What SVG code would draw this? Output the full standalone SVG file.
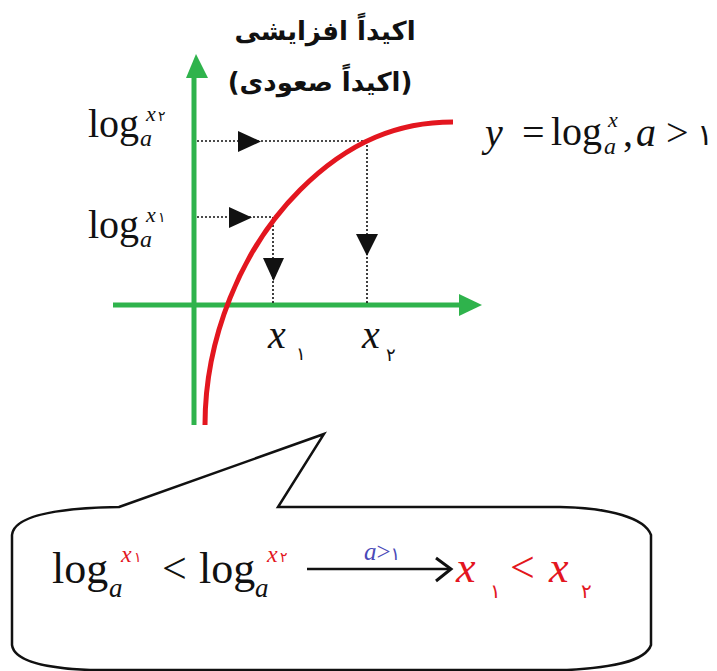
<svg xmlns="http://www.w3.org/2000/svg" width="717" height="671" viewBox="0 0 717 671">
<style>
.serif{font-family:"Liberation Serif","Times New Roman",serif;fill:#111}
.it{font-style:italic}
.fa{font-family:"DejaVu Sans","Noto Sans",sans-serif}
.red{fill:#e3161f}
.dot{stroke:#111;stroke-width:1.6;stroke-dasharray:2 2;fill:none}
.tri{fill:#111}
.axis{stroke:#2fb34c;stroke-width:5;fill:none}
</style>
<rect width="717" height="671" fill="#fff"/>
<g id="title">
<text class="fa" x="325" y="40" font-size="26" font-weight="bold" text-anchor="middle" direction="rtl" fill="#111">اکیداً افزایشی</text>
<text class="fa" x="320" y="91" font-size="26" font-weight="bold" text-anchor="middle" direction="rtl" fill="#111">(اکیداً صعودی)</text>
</g>
<g id="axes">
<line class="axis" x1="194" y1="74" x2="194" y2="425"/>
<polygon points="186,78 208,78 196,54" fill="#2fb34c"/>
<line class="axis" x1="113" y1="305" x2="462" y2="305"/>
<polygon points="459,294 459,316 482,305" fill="#2fb34c"/>
</g>
<g id="connectors">
<line class="dot" x1="197" y1="141" x2="367" y2="141"/>
<polygon class="tri" points="238,131 238,152 261,141.5"/>
<line class="dot" x1="197" y1="217" x2="272" y2="217"/>
<polygon class="tri" points="229,207 229,228 252,217.5"/>
<line class="dot" x1="273" y1="217" x2="273" y2="303"/>
<polygon class="tri" points="263,258 284,258 273.5,281"/>
<line class="dot" x1="367" y1="141" x2="367" y2="303"/>
<polygon class="tri" points="356,234 378,234 367,256"/>
</g>
<g id="curve">
<path d="M205,425 C205,340 240,250 300,190 C350,140 400,122 453,122" fill="none" stroke="#e3161f" stroke-width="5"/>
</g>
<g id="label-log-x2">
<text class="serif" x="88" y="137" font-size="40">log</text>
<text class="serif it" x="140" y="146" font-size="24">a</text>
<text class="serif it" x="146" y="121" font-size="22">x</text>
<text class="fa" x="158" y="121" font-size="14" fill="#111">۲</text>
</g>
<g id="label-log-x1">
<text class="serif" x="88" y="238" font-size="40">log</text>
<text class="serif it" x="140" y="247" font-size="24">a</text>
<text class="serif it" x="146" y="222" font-size="22">x</text>
<text class="fa" x="158" y="222" font-size="14" fill="#111">۱</text>
</g>
<g id="equation">
<text class="serif it" x="485" y="146" font-size="40">y</text>
<text class="serif" x="522" y="146" font-size="40">=</text>
<text class="serif" x="551" y="145" font-size="40">log</text>
<text class="serif it" x="604" y="154" font-size="24">a</text>
<text class="serif it" x="608" y="127" font-size="22">x</text>
<text class="serif" x="623" y="146" font-size="40">,</text>
<text class="serif it" x="636" y="146" font-size="40">a</text>
<text class="serif" x="666" y="146" font-size="40">&gt;</text>
<text class="fa" x="697" y="145" font-size="30" fill="#111">۱</text>
</g>
<g id="x-labels">
<text class="serif it" x="268" y="348" font-size="40">x</text>
<text class="fa" x="296" y="360" font-size="18" fill="#111">۱</text>
<text class="serif it" x="362" y="348" font-size="40">x</text>
<text class="fa" x="386" y="361" font-size="18" fill="#111">۲</text>
</g>
<g id="callout">
<path d="M119,507 L324,434 L278,507 L560,507 C610,508 645,518 651,535 L651,645 C645,662 610,668 567,670 L90,670 C40,668 14,660 12,645 L12,535 C14,515 60,508 119,507 Z" fill="none" stroke="#111" stroke-width="2.5" stroke-linejoin="miter"/>
<text class="serif" x="52" y="583" font-size="44">log</text>
<text class="serif it" x="109" y="597" font-size="27">a</text>
<text class="serif it red" x="121" y="562" font-size="24">x</text>
<text class="fa red" x="134" y="562" font-size="14">۱</text>
<text class="serif" x="162" y="583" font-size="44">&lt;</text>
<text class="serif" x="199" y="583" font-size="44">log</text>
<text class="serif it" x="255" y="597" font-size="27">a</text>
<text class="serif it red" x="267" y="562" font-size="24">x</text>
<text class="fa red" x="280" y="562" font-size="14">۲</text>
<line x1="307" y1="569" x2="450" y2="569" stroke="#111" stroke-width="2.5"/>
<polyline points="436,558 451,569 436,581" fill="none" stroke="#111" stroke-width="3"/>
<text x="364" y="560" font-size="25" fill="#4a4ab8" font-family="Liberation Serif, serif"><tspan font-style="italic">a</tspan>&gt;<tspan font-family="DejaVu Sans, sans-serif" font-size="18">۱</tspan></text>
<text class="serif it red" x="456" y="582" font-size="44">x</text>
<text class="fa red" x="490" y="598" font-size="20">۱</text>
<text class="serif red" x="510" y="582" font-size="44">&lt;</text>
<text class="serif it red" x="549" y="582" font-size="44">x</text>
<text class="fa red" x="581" y="598" font-size="20">۲</text>
</g>
</svg>
